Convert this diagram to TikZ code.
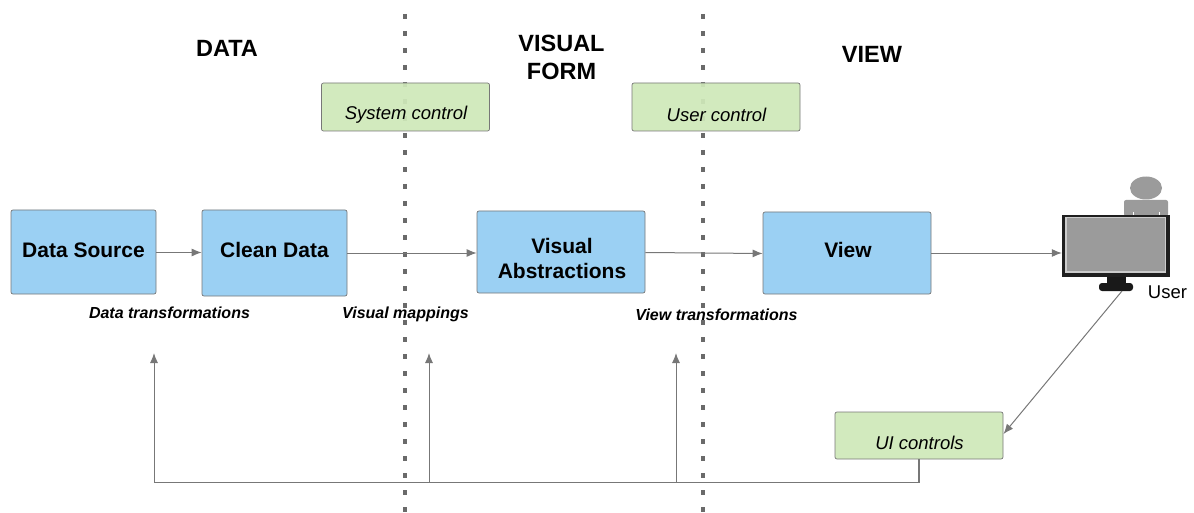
\documentclass[tikz,border=0pt]{standalone}
\usepackage{fontspec}
\setmainfont{Liberation Sans}
\usetikzlibrary{arrows.meta}
\definecolor{bluebox}{HTML}{9BD0F3}
\definecolor{greenbox}{HTML}{CFE8B9}
\definecolor{linegray}{HTML}{777777}
\definecolor{dashgray}{HTML}{6A6A6A}
\definecolor{icongray}{HTML}{9B9B9B}
\tikzset{
  bluenode/.style={draw=linegray,line width=0.7pt,fill=bluebox,rounded corners=2pt,inner sep=0pt},
  bluetext/.style={align=center,inner sep=0pt,font=\fontsize{21}{25}\selectfont\bfseries},
  greennode/.style={draw=linegray,line width=0.7pt,fill=greenbox,fill opacity=0.93,draw opacity=1,rounded corners=2pt,inner sep=0pt},
  greentext/.style={inner sep=0pt,font=\fontsize{18.5}{22}\selectfont\itshape},
  heading/.style={font=\fontsize{23.5}{28}\selectfont\bfseries,align=center,inner sep=0pt},
  caption/.style={font=\fontsize{16}{18}\selectfont\bfseries\itshape,inner sep=0pt},
  flow/.style={draw=linegray,line width=1pt,-{Latex[length=10pt,width=8pt]}},
  plainline/.style={draw=linegray,line width=1.2pt},
  divider/.style={draw=dashgray,line width=3.6pt,dash pattern=on 5pt off 12pt},
}
\begin{document}
\begin{tikzpicture}[x=1pt,y=-1pt]
\useasboundingbox (0,0) rectangle (1194,513);
% dividers
\coordinate (d1t) at (405,14); \coordinate (d1b) at (405,513);
\coordinate (d2t) at (703,14); \coordinate (d2b) at (703,513);
\draw[divider] (d1t) -- (d1b);
\draw[divider] (d2t) -- (d2b);
% headings
\node[heading] (hdata) at (227,48) {DATA};
\node[heading] (hform) at (561.5,57) {VISUAL\\FORM};
\node[heading] (hview) at (872,54) {VIEW};
% green boxes
\node[greennode,minimum width=168pt,minimum height=48pt] (sys) at (405.5,107) {};
\node[greentext] (systext) at (406,115) {System control};
\node[greennode,minimum width=168pt,minimum height=48pt] (usr) at (716,107) {};
\node[greentext] (usrtext) at (716.5,115) {User control};
\node[greennode,minimum width=168pt,minimum height=47pt] (ui) at (919,435.5) {};
\node[greentext] (uitext) at (919.5,443) {UI controls};
% blue boxes
\node[bluenode,minimum width=145pt,minimum height=84pt] (src) at (83.5,252) {};
\node[bluetext] (srctext) at (83.5,250) {Data Source};
\node[bluenode,minimum width=145pt,minimum height=86pt] (clean) at (274.5,253) {};
\node[bluetext] (cleantext) at (274.5,250) {Clean Data};
\node[bluenode,minimum width=168pt,minimum height=82pt] (abs) at (561,252) {};
\node[bluetext] (abstext) at (562,258) {Visual\\Abstractions};
\node[bluenode,minimum width=168pt,minimum height=82pt] (view) at (847,253) {};
\node[bluetext] (viewtext) at (848,249.5) {View};
% captions
\node[caption] (c1) at (169.5,313) {Data transformations};
\node[caption] (c2) at (405.5,314.5) {Visual mappings};
\node[caption] (c3) at (716.5,314.5) {View transformations};
% user icon
\fill[icongray] (1146,188) ellipse [x radius=16pt,y radius=11.5pt];
\fill[icongray,rounded corners=2pt] (1124,216) rectangle (1168,200);
\draw[white,line width=1pt] (1133,212) -- (1133,215) (1159,212) -- (1159,215);
\node[fill=black!88,minimum width=108pt,minimum height=62pt,inner sep=0pt] (monitor) at (1116,246) {};
\fill[icongray,draw=white!80!black,line width=1.2pt] (1066,217.5) rectangle (1165.5,272);
\fill[black!90] (1107,277) rectangle (1126,284);
\node[fill=black!90,rounded corners=3pt,minimum width=34pt,minimum height=8pt,inner sep=0pt] (base) at (1116,287) {};
\node[font=\fontsize{18.5}{21}\selectfont,inner sep=0pt] (usertext) at (1167.5,292) {User};
% connectors
\draw[flow] (src.east |- 0,252.5) -- (clean.west |- 0,252.5);
\draw[flow] (clean.east |- 0,253) -- (abs.west |- 0,253);
\draw[flow] (abs.east |- 0,252.5) -- (view.west |- 0,253.5);
\draw[flow] (view.east |- 0,253) -- (monitor.west |- 0,253);
\coordinate (basefoot) at (1122,291);
\coordinate (uiarrow) at (1003.5,434);
\draw[flow] (basefoot) -- (uiarrow);
% feedback
\coordinate (corner) at (919,482.5);
\coordinate (left) at (154,482.5);
\coordinate (t1) at (154,353);
\coordinate (b2) at (429,482.5);
\coordinate (t2) at (429,353);
\coordinate (b3) at (676,482.5);
\coordinate (t3) at (676,353);
\draw[plainline] (ui.south -| corner) -- (corner) -- (left);
\draw[flow] (left) -- (t1);
\draw[flow] (b2) -- (t2);
\draw[flow] (b3) -- (t3);
\end{tikzpicture}
\end{document}
